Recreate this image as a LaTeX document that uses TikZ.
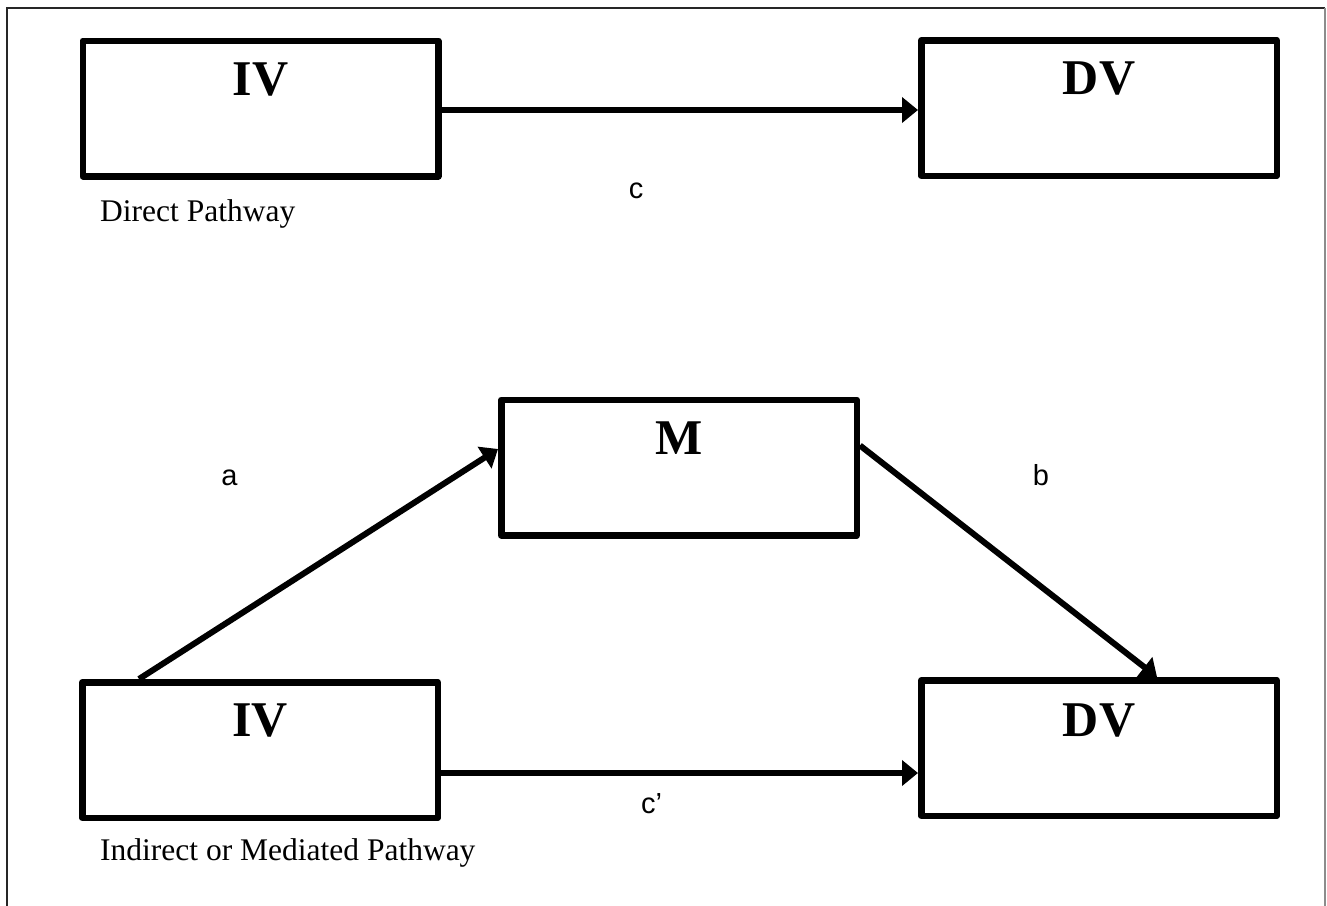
\documentclass[tikz,border=0pt]{standalone}
\usepackage{fontspec}
\setmainfont{Liberation Serif}
\newfontfamily\labelsans{Liberation Sans}
\usetikzlibrary{arrows.meta}

\tikzset{
  varbox/.style={draw=black, line width=6.5pt, line join=round, rectangle,
    minimum width=355.5pt, minimum height=135.5pt, inner sep=0pt},
  vartitle/.style={inner sep=0pt, font=\fontsize{50}{53}\selectfont\bfseries},
  caption/.style={inner sep=0pt, anchor=base west, font=\fontsize{31.5}{34}\selectfont},
  pathlabel/.style={inner sep=0pt, anchor=base, font=\labelsans\fontsize{29}{32}\selectfont},
  arr/.style={line width=6pt, -{Triangle[length=16pt,width=25pt]}},
}

\begin{document}
\begin{tikzpicture}[x=1pt, y=-1pt]
  \useasboundingbox (0,0) rectangle (1327,905);

  % outer frame, open at the bottom
  \draw[line width=1.8pt, black!85] (7,910) -- (7,8) -- (1325,8);
  \draw[line width=1.8pt, black!45] (1325,8) -- (1325,910);

  % direct pathway
  \node[varbox] (iv1) at (260.5,108.5) {};
  \node[varbox] (dv1) at (1099,108) {};
  \node[vartitle] at ([yshift=-42pt]iv1.north) {IV};
  \node[vartitle] at ([yshift=-42pt]dv1.north) {DV};
  \draw[arr] ([yshift=-1.5pt]iv1.east) -- ([yshift=-1.5pt]iv1.east -| dv1.west);
  \node[pathlabel] (lc) at (636,198) {c};
  \node[caption] (cap1) at (100,221) {Direct Pathway};

  % indirect (mediated) pathway
  \node[varbox] (m) at (679,467.5) {};
  \node[vartitle] at ([yshift=-42pt]m.north) {M};
  \node[varbox] (iv2) at (260,750) {};
  \node[varbox] (dv2) at (1099,748) {};
  \node[vartitle] at ([yshift=-41pt]iv2.north) {IV};
  \node[vartitle] at ([yshift=-43pt]dv2.north) {DV};

  \draw[arr] ([xshift=60pt]iv2.north west) -- ([yshift=18.5pt]m.west);
  \draw[arr] ([yshift=22pt]m.east) -- ([xshift=58pt]dv2.north);
  \draw[arr] ([yshift=-23pt]iv2.east) -- ([yshift=-23pt]iv2.east -| dv2.west);

  \node[pathlabel] (la) at (229.5,485) {a};
  \node[pathlabel] (lb) at (1041,485) {b};
  \node[pathlabel, anchor=base west] (lcp) at (641,813) {c’};
  \node[caption] (cap2) at (100,860) {Indirect or Mediated Pathway};
\end{tikzpicture}
\end{document}
